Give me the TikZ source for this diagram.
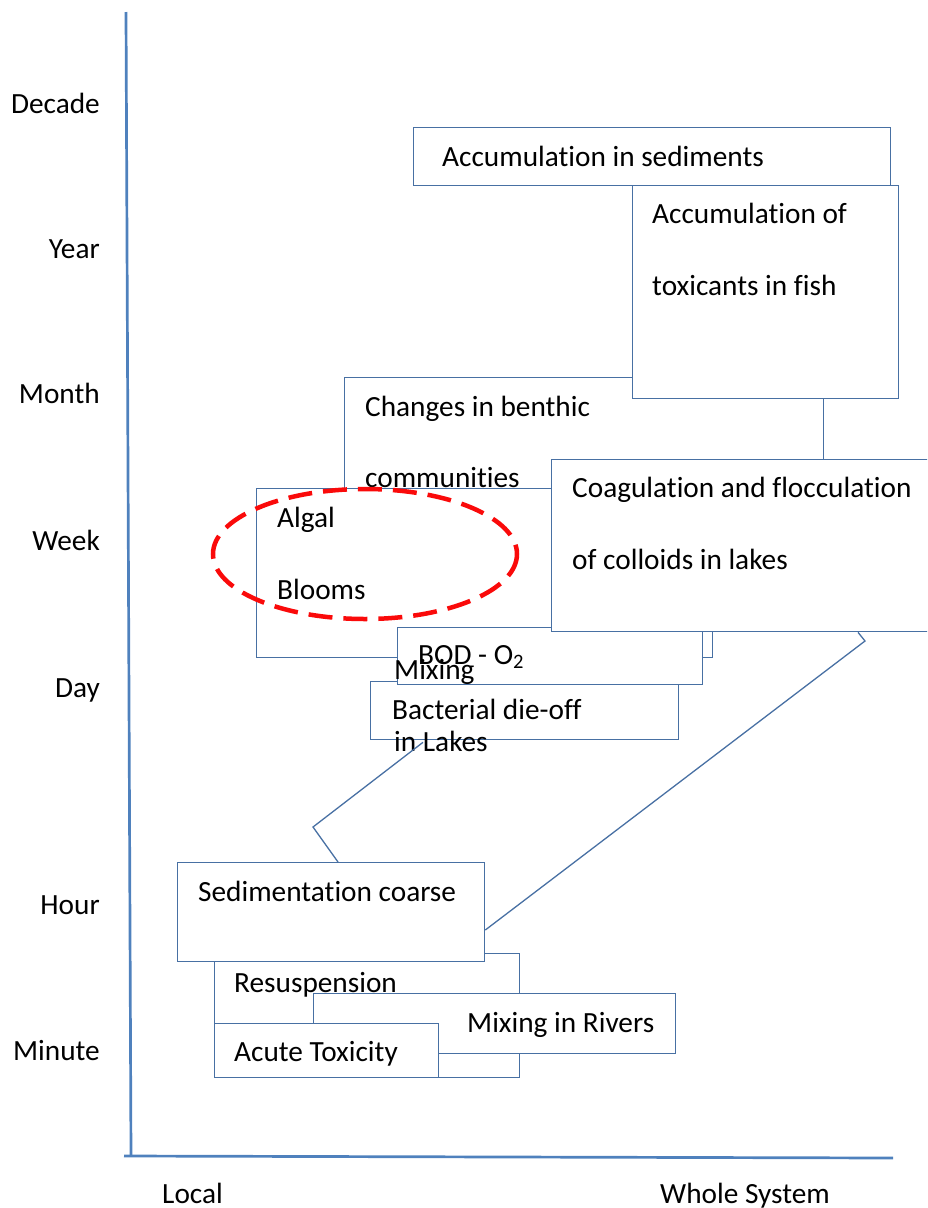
\documentclass[tikz,border=0pt]{standalone}
\usepackage{fontspec}
\setmainfont{Carlito}[RawFeature={-liga;-clig;-calt}]
\definecolor{boxblue}{RGB}{72,112,163}
\definecolor{axisblue}{RGB}{79,129,189}
\definecolor{ringred}{RGB}{250,10,10}
\begin{document}
\begin{tikzpicture}[x=1pt,y=-1pt,
    box/.style={draw=boxblue,line width=1.3pt,fill=white,anchor=north west,inner sep=0pt},
    lbl/.style={anchor=base west,inner sep=0pt,font=\fontsize{29.3}{35}\selectfont},
    tick/.style={lbl,anchor=base east},
    link/.style={draw=boxblue,line width=1.3pt},
    axis/.style={draw=axisblue,line width=2.7pt},
    ring/.style={draw=ringred,line width=4.5pt,dash pattern=on 24pt off 11pt}]
        \clip (0,0) rectangle (927,1208);

        % axes
        \coordinate (ytop) at (126,12);
        \coordinate (orig) at (131,1156);
        \coordinate (xleft) at (124,1156);
        \coordinate (xright) at (893,1158);
        \draw[axis] (ytop) -- (orig);
        \draw[axis] (xleft) -- (xright);

        % time scale
        \node[tick] (decade) at (100,113) {Decade};
        \node[tick] (year) at (100,258) {Year};
        \node[tick] (month) at (100,403) {Month};
        \node[tick] (week) at (100,550) {Week};
        \node[tick] (day) at (100,697) {Day};
        \node[tick] (hour) at (100,914) {Hour};
        \node[tick] (minute) at (100,1060) {Minute};

        % space scale
        \node[lbl] (local) at (162,1203) {Local};
        \node[lbl] (whole) at (660,1203) {Whole System};

        % long term
        \node[box,minimum width=477pt,minimum height=58pt] (sedim) at (413,127) {};
        \node[lbl] (sedimtxt) at (442,166) {Accumulation in sediments};
        \node[box,minimum width=479pt,minimum height=190pt] (benth) at (344,377) {};
        \node[lbl] (benthtxt) at (365,416) {Changes in benthic};
        \node[lbl] (benthtxtb) at (365,487) {communities};
        \node[box,minimum width=266pt,minimum height=213pt] (fish) at (632,185) {};
        \node[lbl] (fishtxt) at (652,223) {Accumulation of};
        \node[lbl] (fishtxtb) at (652,295) {toxicants in fish};

        % weeks and days
        \node[box,minimum width=456pt,minimum height=169pt] (algal) at (256,488) {};
        \node[lbl] (algaltxt) at (277,527) {Algal};
        \node[lbl] (algaltxtb) at (277,599) {Blooms};
        \draw[ring] (365,554) ellipse [x radius=152,y radius=65];
        \node[box,minimum width=308pt,minimum height=58pt] (bact) at (370,681) {};
        \node[lbl] (bacttxt) at (392,719) {Bacterial die-off};
        \node[lbl] (bacttxtb) at (394,751) {in Lakes};
        \node[box,minimum width=305pt,minimum height=57pt] (bod) at (397,627) {};
        \node[lbl] (bodtxt) at (418,664) {BOD - O\textsubscript{2}};
        \node[box,minimum width=409pt,minimum height=172pt] (coag) at (551,459) {};
        \node[lbl] (coagtxt) at (572,497) {Coagulation and flocculation};
        \node[lbl] (coagtxtb) at (572,569) {of colloids in lakes};
        \node[lbl] (mixtxt) at (394,679) {Mixing};

        % hours and minutes
        \node[box,minimum width=305pt,minimum height=124pt] (resus) at (214,953) {};
        \node[lbl] (resustxt) at (234,992) {Resuspension};
        \node[box,minimum width=307pt,minimum height=99pt] (sedc) at (177,862) {};
        \node[lbl] (sedctxt) at (198,901) {Sedimentation coarse};
        \node[box,minimum width=362pt,minimum height=60pt] (rivers) at (313,993) {};
        \node[lbl] (riverstxt) at (467,1032) {Mixing in Rivers};
        \node[box,minimum width=224pt,minimum height=54pt] (acute) at (214,1023) {};
        \node[lbl] (acutetxt) at (234,1061) {Acute Toxicity};

        % connectors
        \coordinate (kinka) at (313,827);
        \coordinate (kinkb) at (865,641);
        \draw[link] ([xshift=53pt,yshift=-2pt]bact.south west) -- (kinka) -- ([xshift=161pt]sedc.north west);
        \draw[link] ([xshift=307pt]coag.south west) -- (kinkb) -- ([yshift=-68pt]sedc.north east);
    \end{tikzpicture}
\end{document}
